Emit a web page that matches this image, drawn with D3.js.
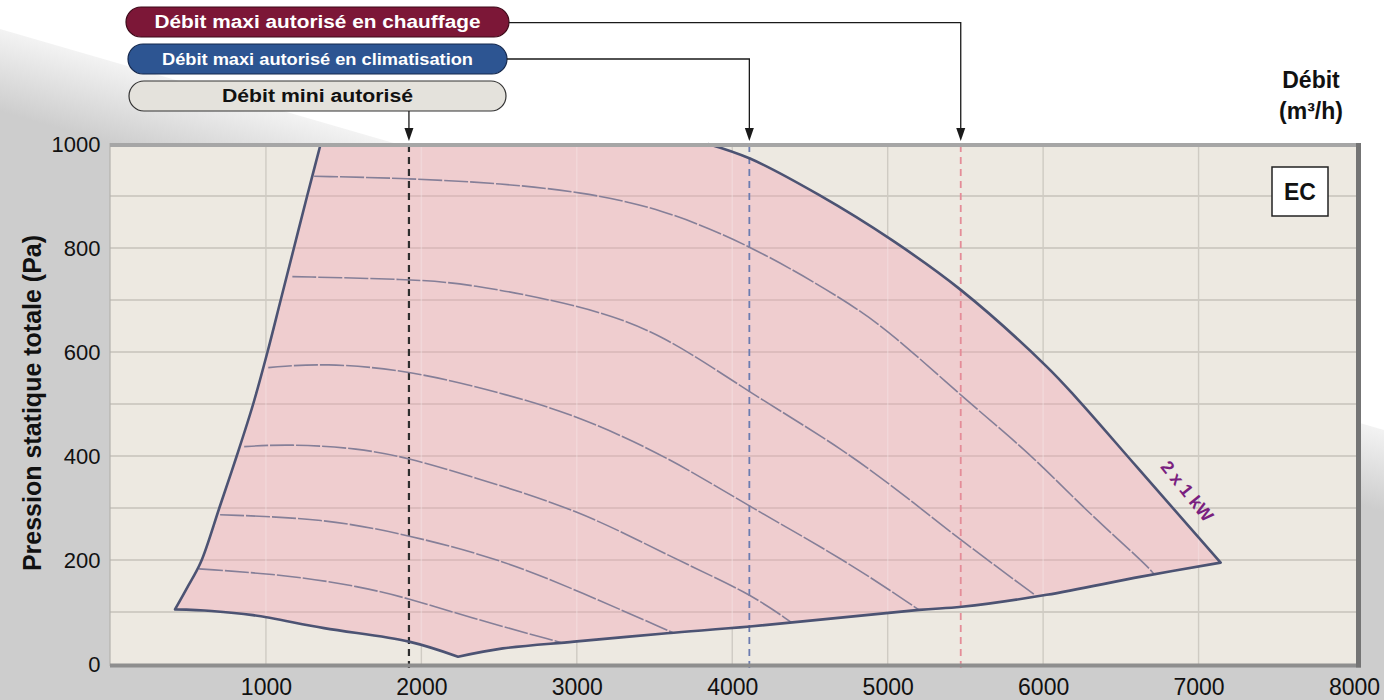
<!DOCTYPE html>
<html>
<head>
<meta charset="utf-8">
<script src="https://cdn.jsdelivr.net/npm/d3@7"></script>
<style>
  html, body { margin: 0; padding: 0; background: #ffffff; }
  svg { display: block; font-family: "Liberation Sans", Arial, Helvetica, sans-serif; }
</style>
</head>
<body>
<svg id="chart" width="1384" height="700"></svg>
<script>
// ---------------- DATA ----------------
const xTicks = [1000, 2000, 3000, 4000, 5000, 6000, 7000, 8000];
const yTicks = [0, 200, 400, 600, 800, 1000];
const xGrid = [1000, 2000, 3000, 4000, 5000, 6000, 7000];
const yGrid = [100, 200, 300, 400, 500, 600, 700, 800, 900];

// operating envelope (Débit m3/h, Pression Pa)
const envelopeTop = [[1352, 1000], [3844, 1000]];
const envelopeRight = [[3844, 1000], [4114, 972], [4558, 902], [5028, 815], [5472, 719], [6023, 572], [6225, 508], [6603, 379], [7142, 195]];
const envelopeBottomRight = [[7142, 195], [6631, 168], [6023, 133], [5476, 110], [5202, 104], [4114, 72], [3580, 59], [2983, 43], [2524, 30], [2236, 14]];
const envelopeBottomLeft = [[2236, 14], [1920, 43], [1374, 69], [916, 94], [650, 102], [415, 105]];
const envelopeLeft = [[415, 105], [490, 145], [580, 195], [700, 300], [812, 400], [918, 500], [1010, 600], [1095, 700], [1180, 800], [1265, 900], [1352, 1000]];

// fan speed curves
const curve1 = [[1310, 938], [1920, 934], [2525, 924], [3021, 908], [3536, 877], [4114, 806], [4726, 700], [5028, 636], [5500, 508], [5916, 405], [6272, 296], [6653, 194], [6713, 173]];
const curve2 = [[1170, 745], [1920, 740], [2294, 732], [3021, 690], [3535, 639], [4114, 521], [4725, 412], [5202, 302], [5471, 238], [5950, 132]];
const curve3 = [[1015, 570], [1372, 579], [1920, 565], [2525, 521], [3021, 476], [3600, 396], [4114, 302], [4725, 200], [5202, 104]];
const curve4 = [[860, 418], [1147, 423], [1600, 415], [1920, 396], [2294, 363], [3021, 296], [3600, 206], [4114, 136], [4380, 80]];
const curve5 = [[705, 287], [1374, 280], [1920, 248], [2525, 200], [3020, 139], [3620, 60]];
const curve6 = [[570, 183], [1146, 171], [1605, 149], [1920, 126], [2293, 91], [2900, 41]];

// limits
const debitMini = 1920;
const debitMaxiClim = 4110;
const debitMaxiChauffage = 5470;

const legendLabels = ["Débit maxi autorisé en chauffage", "Débit maxi autorisé en climatisation", "Débit mini autorisé"];
const xTitle = ["Débit", "(m³/h)"];
const yTitle = "Pression statique totale (Pa)";
const modelLabel = "EC";
const curveLabel = "2 x 1 kW";

// ---------------- DRAW ----------------
const svg = d3.select("#chart");
const W = 1384, H = 700;

const x = d3.scaleLinear().domain([0, 8000]).range([110.5, 1354]);
const y = d3.scaleLinear().domain([0, 1000]).range([664, 144]);

// background
const defs = svg.append("defs");
const g1 = defs.append("linearGradient").attr("id", "bgGrad")
  .attr("gradientUnits", "userSpaceOnUse")
  .attr("x1", 0).attr("y1", 29).attr("x2", -22).attr("y2", 105);
g1.append("stop").attr("offset", 0).attr("stop-color", "#f3f3f3");
g1.append("stop").attr("offset", 1).attr("stop-color", "#cdcdcd");

svg.append("rect").attr("width", W).attr("height", H).attr("fill", "#ffffff");
svg.append("polygon")
  .attr("points", `0,29 ${W},430 ${W},${H} 0,${H}`)
  .attr("fill", "url(#bgGrad)");

// plot background
const px0 = 110, px1 = 1360, py0 = 143, py1 = 666;
svg.append("rect").attr("x", px0).attr("y", py0).attr("width", px1 - px0).attr("height", py1 - py0)
  .attr("fill", "#ede9e1");

// grid (under the envelope)
const grid = svg.append("g");
grid.selectAll("line.h").data(yGrid).join("line")
  .attr("x1", px0).attr("x2", px1)
  .attr("y1", d => y(d)).attr("y2", d => y(d))
  .attr("stroke", "#d0ccc4").attr("stroke-width", 2);
grid.selectAll("line.v").data(xGrid).join("line")
  .attr("x1", d => x(d)).attr("x2", d => x(d))
  .attr("y1", py0).attr("y2", py1)
  .attr("stroke", "#cfcbc3").attr("stroke-width", 1.4);

// envelope fill
function segPath(pts, curve) {
  return d3.line().x(d => x(d[0])).y(d => y(d[1])).curve(curve || d3.curveCatmullRom.alpha(0.5))(pts);
}
const segs = [envelopeTop, envelopeRight, envelopeBottomRight, envelopeBottomLeft, envelopeLeft];
const fillD = segs.map((s, i) => {
  const p = segPath(s, i === 0 ? d3.curveLinear : null);
  return i ? p.replace(/^M/, "L") : p;
}).join("") + "Z";
svg.append("path").attr("d", fillD).attr("fill", "#efcdcf");

// grid visible through the envelope
const clip = defs.append("clipPath").attr("id", "envClip");
clip.append("path").attr("d", fillD);
const g2 = svg.append("g").attr("clip-path", "url(#envClip)");
g2.selectAll("line.h").data(yGrid).join("line")
  .attr("x1", px0).attr("x2", px1)
  .attr("y1", d => y(d)).attr("y2", d => y(d))
  .attr("stroke", "rgba(150,120,120,0.2)").attr("stroke-width", 2);
g2.selectAll("line.v").data(xGrid).join("line")
  .attr("x1", d => x(d)).attr("x2", d => x(d))
  .attr("y1", py0).attr("y2", py1)
  .attr("stroke", "rgba(245,228,228,0.45)").attr("stroke-width", 1.5);

// limit dashed lines
const limits = [
  { v: debitMini, c: "#2e2e2e", w: 2.2 },
  { v: debitMaxiClim, c: "#6c7cb0", w: 1.8 },
  { v: debitMaxiChauffage, c: "#e48c98", w: 1.8 }
];
svg.selectAll("line.lim").data(limits).join("line")
  .attr("x1", d => x(d.v)).attr("x2", d => x(d.v))
  .attr("y1", py0 + 2).attr("y2", 668)
  .attr("stroke", d => d.c).attr("stroke-width", d => d.w)
  .attr("stroke-dasharray", "7,5");

// speed curves
const curves = [curve1, curve2, curve3, curve4, curve5, curve6];
svg.selectAll("path.sp").data(curves).join("path")
  .attr("d", d => segPath(d, d3.curveBasis))
  .attr("fill", "none")
  .attr("stroke", "#857f98").attr("stroke-width", 1.6)
  .attr("stroke-dasharray", "24,2");

// envelope outline (without top)
const outlineD = [envelopeRight, envelopeBottomRight, envelopeBottomLeft, envelopeLeft].map((s, i) => {
  const p = segPath(s);
  return i ? p.replace(/^M/, "L") : p;
}).join("");
svg.append("path").attr("d", outlineD).attr("fill", "none")
  .attr("stroke", "#4c5373").attr("stroke-width", 2.6).attr("stroke-linejoin", "round");

// plot frame
svg.append("line").attr("x1", px0).attr("x2", px0).attr("y1", py0).attr("y2", py1)
  .attr("stroke", "#b4b2ad").attr("stroke-width", 1.2);
svg.append("line").attr("x1", px0).attr("x2", px1).attr("y1", 145).attr("y2", 145)
  .attr("stroke", "#a6a6a6").attr("stroke-width", 4);
svg.append("line").attr("x1", px0).attr("x2", px1 + 1).attr("y1", 665.5).attr("y2", 665.5)
  .attr("stroke", "#8e8e8e").attr("stroke-width", 4);
svg.append("line").attr("x1", 1358.5).attr("x2", 1358.5).attr("y1", py0).attr("y2", 667.5)
  .attr("stroke", "#747474").attr("stroke-width", 5);

// axes
const xAxis = svg.append("g").attr("transform", "translate(0,664)")
  .call(d3.axisBottom(x).tickValues(xTicks).tickFormat(d3.format("d")).tickSize(0).tickPadding(15));
xAxis.select(".domain").remove();
xAxis.selectAll("text").attr("font-size", 23).attr("fill", "#111")
  .attr("font-family", "'Liberation Sans', Arial, sans-serif");

const yAxis = svg.append("g").attr("transform", "translate(110.5,0)")
  .call(d3.axisLeft(y).tickValues(yTicks).tickFormat(d3.format("d")).tickSize(0).tickPadding(10));
yAxis.select(".domain").remove();
yAxis.selectAll("text").attr("font-size", 22).attr("fill", "#111")
  .attr("font-family", "'Liberation Sans', Arial, sans-serif");

// y title
svg.append("text")
  .attr("transform", "translate(41,403) rotate(-90)")
  .attr("text-anchor", "middle")
  .attr("font-size", 25).attr("font-weight", "bold").attr("fill", "#111")
  .text(yTitle);

// x title (top right)
svg.selectAll("text.xt").data(xTitle).join("text")
  .attr("x", 1311).attr("y", (d, i) => 88 + i * 31)
  .attr("text-anchor", "middle")
  .attr("font-size", 23).attr("font-weight", "bold").attr("fill", "#111")
  .text(d => d);

// EC box
svg.append("rect").attr("x", 1272).attr("y", 167).attr("width", 56).attr("height", 49)
  .attr("fill", "#ffffff").attr("stroke", "#222").attr("stroke-width", 1.5);
svg.append("text").attr("x", 1300).attr("y", 199.5).attr("text-anchor", "middle")
  .attr("font-size", 23).attr("font-weight", "bold").attr("fill", "#111").text(modelLabel);

// curve label
svg.append("text")
  .attr("transform", "translate(1186,492) rotate(51)")
  .attr("text-anchor", "middle").attr("dominant-baseline", "middle")
  .attr("font-size", 18).attr("font-weight", "bold").attr("fill", "#7a1f80")
  .text(curveLabel);

// legend pills and connectors
const pills = [
  { t: legendLabels[0], x: 126, y: 7, w: 383, fill: "#7c1737", stroke: "#3c0818", tc: "#ffffff", fs: 18, tl: 326, cy: 22.7, lim: debitMaxiChauffage },
  { t: legendLabels[1], x: 128, y: 44, w: 379, fill: "#2d5592", stroke: "#15284d", tc: "#ffffff", fs: 16, tl: 311, cy: 59, lim: debitMaxiClim },
  { t: legendLabels[2], x: 129, y: 81, w: 377, fill: "#e4e2dc", stroke: "#333", tc: "#111", fs: 18, tl: 191, cy: null, lim: debitMini }
];
const pg = svg.selectAll("g.pill").data(pills).join("g");
pg.append("rect")
  .attr("x", d => d.x).attr("y", d => d.y).attr("width", d => d.w).attr("height", 30)
  .attr("rx", 15).attr("ry", 15)
  .attr("fill", d => d.fill).attr("stroke", d => d.stroke).attr("stroke-width", 1.2);
pg.append("text")
  .attr("x", d => d.x + d.w / 2).attr("y", d => d.y + 15)
  .attr("dy", "0.36em")
  .attr("text-anchor", "middle")
  .attr("font-size", d => d.fs).attr("font-weight", "bold").attr("fill", d => d.tc)
  .attr("textLength", d => d.tl).attr("lengthAdjust", "spacingAndGlyphs")
  .text(d => d.t);

// connectors
const tipY = 141;
pills.forEach(d => {
  const xv = x(d.lim);
  let path;
  if (d.cy !== null) {
    path = `M${d.x + d.w},${d.cy}H${xv}V${tipY - 11}`;
  } else {
    path = `M${xv},${d.y + 30}V${tipY - 11}`;
  }
  svg.append("path").attr("d", path).attr("fill", "none")
    .attr("stroke", "#1a1a1a").attr("stroke-width", 1.3);
  svg.append("path")
    .attr("d", `M${xv - 4.5},${tipY - 13}L${xv + 4.5},${tipY - 13}L${xv},${tipY}Z`)
    .attr("fill", "#1a1a1a");
});
</script>
</body>
</html>
